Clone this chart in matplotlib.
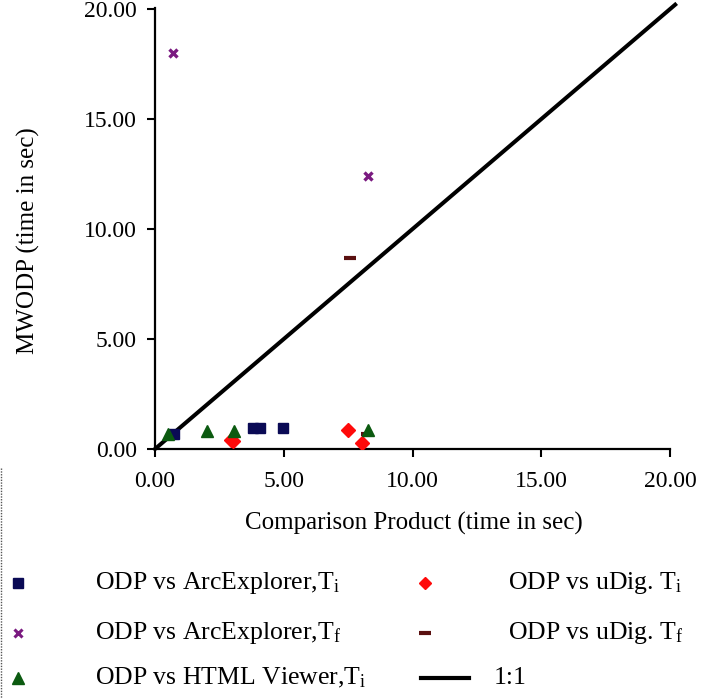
import matplotlib
matplotlib.use("Agg")
import matplotlib.pyplot as plt
from matplotlib.lines import Line2D

plt.rcParams['font.family'] = ['Liberation Serif', 'DejaVu Serif']
plt.rcParams['mathtext.fontset'] = 'custom'
plt.rcParams['mathtext.rm'] = 'Liberation Serif'
plt.rcParams['mathtext.it'] = 'Liberation Serif:italic'

# ---- data ----
arc_ti_x = [0.74, 3.81, 4.09, 4.99]
arc_ti_y = [0.67, 0.94, 0.94, 0.94]

arc_tf_x = [0.69, 8.29]
arc_tf_y = [18.01, 12.41]

html_ti_x = [0.52, 2.01, 3.05, 8.27]
html_ti_y = [0.68, 0.83, 0.83, 0.86]

udig_ti_x = [2.95, 3.02, 7.48, 8.04]
udig_ti_y = [0.41, 0.38, 0.86, 0.29]

udig_tf_x = [7.59, 8.23]
udig_tf_y = [8.68, 0.68]

ref_x = [0.0, 20.2]
ref_y = [0.0, 20.2]

x_ticks = [0, 5, 10, 15, 20]
y_ticks = [0, 5, 10, 15, 20]

labels = [r'ODP vs ArcExplorer,T$_{\mathrm{i}}$',
          r'ODP vs ArcExplorer,T$_{\mathrm{f}}$',
          r'ODP vs HTML Viewer,T$_{\mathrm{i}}$',
          r'ODP vs uDig. T$_{\mathrm{i}}$',
          r'ODP vs uDig. T$_{\mathrm{f}}$',
          '1:1']

W, H = 721, 698
fig = plt.figure(figsize=(W / 100, H / 100), dpi=100)
ax = fig.add_axes([155 / W, 1 - 449 / H, (670 - 155) / W, (449 - 8) / H])

c_navy = '#0a0a55'
c_purple = '#7a1a80'
c_green = '#0b5a10'
c_red = '#ff0a0a'
c_dred = '#5a1010'

ax.plot(ref_x, ref_y, color='black', lw=2.9, clip_on=False, zorder=2)
ax.plot(arc_ti_x, arc_ti_y, ls='none', marker='s', ms=7.5, color=c_navy, zorder=3)
ax.plot(arc_tf_x, arc_tf_y, ls='none', marker='x', ms=6, mew=2.4, color=c_purple, zorder=3)
ax.plot(html_ti_x, html_ti_y, ls='none', marker='^', ms=9, color=c_green, zorder=4)
ax.plot(udig_ti_x, udig_ti_y, ls='none', marker='D', ms=7.5, color=c_red, zorder=3)
ax.plot(udig_tf_x, udig_tf_y, ls='none', marker='_', ms=8, mew=3, color=c_dred, zorder=3)

ax.set_xlim(0, 20)
ax.set_ylim(0, 20.05)
ax.set_xticks(x_ticks)
ax.set_yticks(y_ticks)
ax.set_xticklabels([f'{v:.2f}' for v in x_ticks])
ax.set_yticklabels([f'{v:.2f}' for v in y_ticks])
for s in ['top', 'right']:
    ax.spines[s].set_visible(False)
for s in ['left', 'bottom']:
    ax.spines[s].set_linewidth(1.6)
ax.tick_params(axis='both', direction='out', length=6, width=1.5, labelsize=17)
ax.tick_params(axis='x', pad=10)
ax.tick_params(axis='y', pad=7)

fig.text(414 / W, 1 - 523 / H, 'Comparison Product (time in sec)', fontsize=18,
         ha='center', va='center')
fig.text(28 / W, 1 - 241 / H, 'MWODP (time in sec)', fontsize=18,
         ha='center', va='center', rotation=90)

# ---- legend (manual layout) ----
def fx(px):
    return px / W

def fy(py):
    return 1 - py / H

rows = [583, 633, 678]
handles = [
    dict(marker='s', ms=7.5, color=c_navy),
    dict(marker='x', ms=5.5, mew=2.2, color=c_purple),
    dict(marker='^', ms=9, color=c_green),
    dict(marker='D', ms=6.5, color=c_red),
    dict(marker='_', ms=8, mew=3, color=c_dred),
]
for i in range(3):
    fig.add_artist(Line2D([fx(18)], [fy(rows[i])], ls='none', **handles[i]))
    fig.text(fx(95), fy(rows[i]), labels[i], fontsize=18.5, ha='left', va='center')
for i in range(2):
    fig.add_artist(Line2D([fx(425)], [fy(rows[i])], ls='none', **handles[3 + i]))
    fig.text(fx(508), fy(rows[i]), labels[3 + i], fontsize=18.5, ha='left', va='center')
fig.add_artist(Line2D([fx(421), fx(469)], [fy(rows[2]), fy(rows[2])], color='black', lw=3))
fig.text(fx(494), fy(rows[2]), labels[5], fontsize=18.5, ha='left', va='center')

# dotted frame edge at left
fig.add_artist(Line2D([fx(1), fx(1)], [fy(468), fy(698)], color='#555555', lw=1,
                      ls=(0, (1, 1))))

fig.savefig('out.png', dpi=100)
